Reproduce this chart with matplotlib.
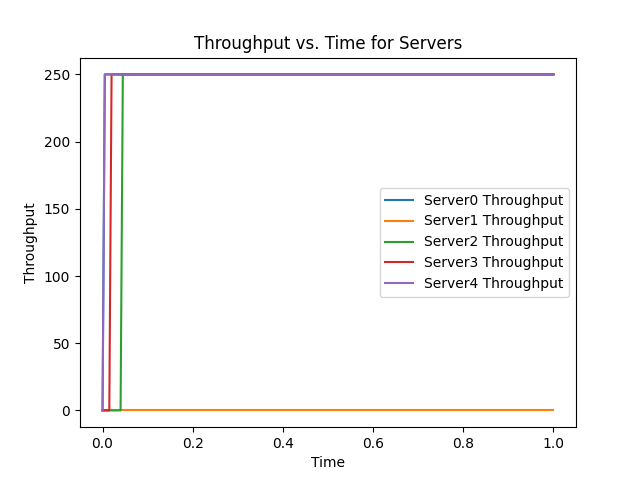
import matplotlib
matplotlib.use("Agg")
import matplotlib.pyplot as plt

# time / throughput samples
server0_time = [0.0, 0.005, 1.0]
server0_tp = [0, 250, 250]
server1_time = [0.0, 1.0]
server1_tp = [0, 0]
server2_time = [0.0, 0.04, 0.045, 1.0]
server2_tp = [0, 0, 250, 250]
server3_time = [0.0, 0.015, 0.02, 1.0]
server3_tp = [0, 0, 250, 250]
server4_time = [0.0, 0.005, 1.0]
server4_tp = [0, 250, 250]

series = [
    ("Server0 Throughput", server0_time, server0_tp),
    ("Server1 Throughput", server1_time, server1_tp),
    ("Server2 Throughput", server2_time, server2_tp),
    ("Server3 Throughput", server3_time, server3_tp),
    ("Server4 Throughput", server4_time, server4_tp),
]

fig, ax = plt.subplots(figsize=(6.4, 4.8), dpi=100)
for label, t, tp in series:
    ax.plot(t, tp, label=label)

ax.set_xlabel("Time")
ax.set_ylabel("Throughput")
ax.set_title("Throughput vs. Time for Servers")
ax.legend(loc="center right")
fig.savefig("out.png")
